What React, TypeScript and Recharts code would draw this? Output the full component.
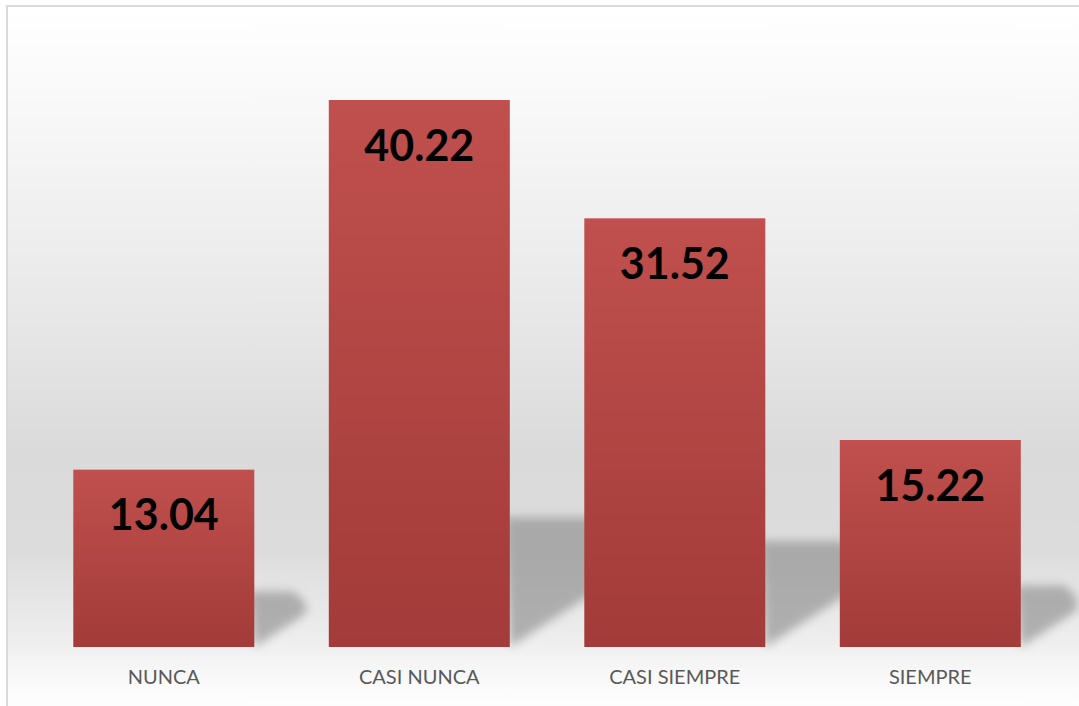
import React from 'react';
import { BarChart, Bar, XAxis, YAxis, LabelList } from 'recharts';

const categoryLabels = ['NUNCA', 'CASI NUNCA', 'CASI SIEMPRE', 'SIEMPRE'];
const percentValues = [13.04, 40.22, 31.52, 15.22];

const chartRows = categoryLabels.map((label, index) => ({
  label,
  value: percentValues[index],
}));

const CHART_WIDTH = 1079;
const CHART_HEIGHT = 706;

// bar with a soft cast shadow behind it, on the right side
function ShadowedBar(props: any): React.JSX.Element {
  const { x, y, width, height } = props;
  const base = y + height;
  const shadowRise = height * 0.2 + 20;
  const reach = height * 0.15 + 25;
  const points = [
    [x + width - 5, base - shadowRise],
    [x + width + reach - 12, base - shadowRise],
    [x + width + reach, base - shadowRise + 12],
    [x + width + reach, base - reach * 0.65],
    [x + width, base],
  ]
    .map((p) => p.join(','))
    .join(' ');
  return (
    <g>
      <polygon points={points} fill="#8a8a8a" opacity={0.62} filter="url(#shadowBlur)" />
      <rect x={x} y={y} width={width} height={height} fill="url(#barFill)" />
    </g>
  );
}

function ValueLabel(props: any): React.JSX.Element {
  const { x, y, width, value } = props;
  return (
    <text
      x={x + width / 2}
      y={y + 44}
      textAnchor="middle"
      dominantBaseline="central"
      fontFamily="Lato, 'Open Sans', sans-serif"
      fontWeight={700}
      fontSize={43}
      fill="#000000"
    >
      {Number(value).toFixed(2)}
    </text>
  );
}

export default function App(): React.JSX.Element {
  return (
    <div
      style={{
        position: 'absolute',
        left: 0,
        top: 0,
        width: CHART_WIDTH,
        height: CHART_HEIGHT,
        overflow: 'hidden',
        background: '#ffffff',
      }}
    >
      <div
        style={{
          position: 'absolute',
          left: 6,
          top: 5,
          width: CHART_WIDTH + 20,
          height: CHART_HEIGHT + 20,
          border: '2px solid #d9d9d9',
          boxSizing: 'border-box',
          background:
            'linear-gradient(to bottom, #ffffff 0%, #f8f8f8 14%, #e6e6e6 45%, #dadada 62%, #dcdcdc 75%, #eeeeee 88%, #f6f6f6 91.5%, #fcfcfc 95%, #ffffff 100%)',
        }}
      />
      <div style={{ position: 'absolute', left: 0, top: 0 }}>
        <BarChart
          width={CHART_WIDTH}
          height={CHART_HEIGHT}
          data={chartRows}
          margin={{ top: 35, right: 21, left: 36, bottom: 0 }}
          barCategoryGap="14.6%"
        >
          <defs>
            <linearGradient id="barFill" x1="0" y1="0" x2="0" y2="1">
              <stop offset="0%" stopColor="#c0504d" />
              <stop offset="100%" stopColor="#a23b39" />
            </linearGradient>
            <filter id="shadowBlur" x="-50%" y="-50%" width="200%" height="200%">
              <feGaussianBlur stdDeviation="5" />
            </filter>
          </defs>
          <XAxis
            dataKey="label"
            height={59}
            axisLine={false}
            tickLine={false}
            interval={0}
            tick={{
              fontFamily: "Lato, 'Open Sans', sans-serif",
              fontSize: 20,
              fill: '#595959',
            }}
            dy={15}
          />
          <YAxis hide domain={[0, 45]} />
          <Bar dataKey="value" shape={<ShadowedBar />} isAnimationActive={false}>
            <LabelList dataKey="value" content={<ValueLabel />} />
          </Bar>
        </BarChart>
      </div>
    </div>
  );
}
